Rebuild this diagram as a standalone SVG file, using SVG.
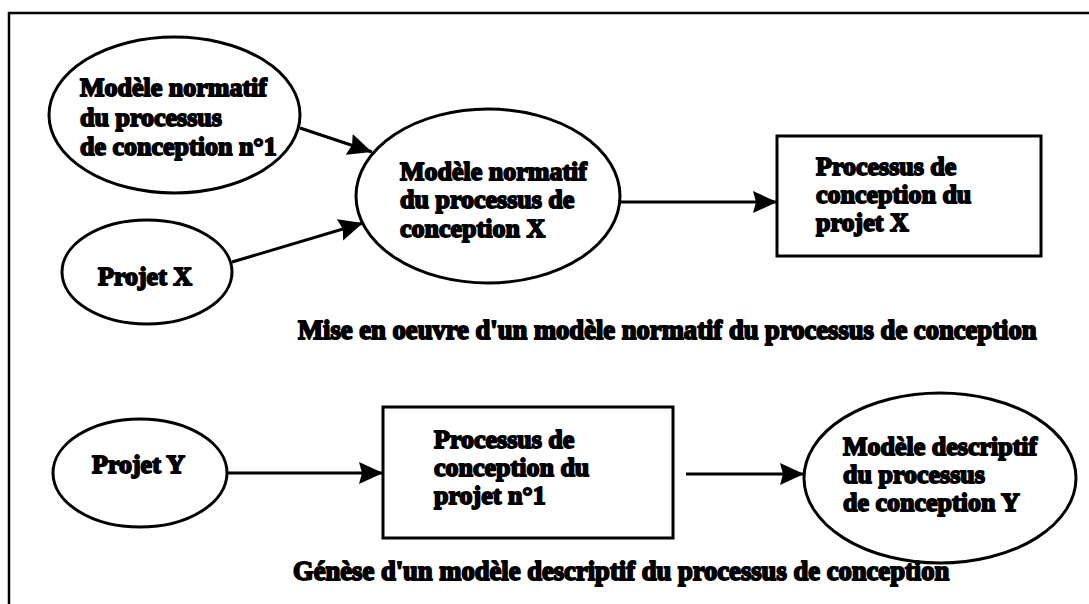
<svg xmlns="http://www.w3.org/2000/svg" width="1089" height="604" viewBox="0 0 1089 604">
<style>
.shape{fill:#fff;stroke:#000;stroke-width:3}
.t{font-family:"Liberation Serif","Times New Roman",serif;font-weight:bold;font-size:26px;fill:#000;stroke:#000;stroke-width:1.8;stroke-linejoin:round}
.cap{font-size:26.6px}
.c{fill:none;stroke:#000;stroke-width:3}
</style>
<defs>
<marker id="ah" markerUnits="userSpaceOnUse" markerWidth="26" markerHeight="24" refX="24" refY="11" orient="auto">
<path d="M0,0 L24,11 L0,22 L3,11 Z" fill="#000"/>
</marker>
</defs>
<rect width="1089" height="604" fill="#fff"/>
<path d="M9,604 V13 H1089" fill="none" stroke="#000" stroke-width="2.5"/>
<g id="connectors">
<line class="c" x1="300" y1="128" x2="372" y2="152" marker-end="url(#ah)"/>
<line class="c" x1="232" y1="262" x2="363" y2="223" marker-end="url(#ah)"/>
<line class="c" x1="620" y1="202" x2="777" y2="202" marker-end="url(#ah)"/>
<line class="c" x1="227" y1="473" x2="383" y2="473" marker-end="url(#ah)"/>
<line class="c" x1="686" y1="474" x2="804" y2="474" marker-end="url(#ah)"/>
</g>
<g id="n1">
<ellipse class="shape" cx="174.5" cy="115" rx="125.5" ry="78"/>
<text class="t" x="80" y="96">Modèle normatif</text>
<text class="t" x="80" y="126">du processus</text>
<text class="t" x="80" y="155">de conception n°1</text>
</g>
<g id="n2">
<ellipse class="shape" cx="147" cy="272" rx="85" ry="52"/>
<text class="t" x="98" y="285">Projet X</text>
</g>
<g id="n3">
<ellipse class="shape" cx="488" cy="196" rx="132" ry="87"/>
<text class="t" x="400" y="180">Modèle normatif</text>
<text class="t" x="400" y="208">du processus de</text>
<text class="t" x="400" y="237">conception X</text>
</g>
<g id="n4">
<rect class="shape" x="777" y="136" width="264" height="120"/>
<text class="t" x="816" y="175">Processus de</text>
<text class="t" x="816" y="203">conception du</text>
<text class="t" x="816" y="231">projet X</text>
</g>
<g id="cap1">
<text class="t cap" x="298" y="339">Mise en oeuvre d'un modèle normatif du processus de conception</text>
</g>
<g id="n5">
<ellipse class="shape" cx="140" cy="473" rx="87" ry="54"/>
<text class="t" x="92" y="473">Projet Y</text>
</g>
<g id="n6">
<rect class="shape" x="383" y="407" width="290" height="131"/>
<text class="t" x="434" y="448">Processus de</text>
<text class="t" x="434" y="476">conception du</text>
<text class="t" x="434" y="504">projet n°1</text>
</g>
<g id="n7">
<ellipse class="shape" cx="940" cy="478" rx="136" ry="85"/>
<text class="t" x="843" y="455">Modèle descriptif</text>
<text class="t" x="843" y="483">du processus</text>
<text class="t" x="843" y="511">de conception Y</text>
</g>
<g id="cap2">
<text class="t cap" x="293" y="580">Génèse d'un modèle descriptif du processus de conception</text>
</g>
</svg>
